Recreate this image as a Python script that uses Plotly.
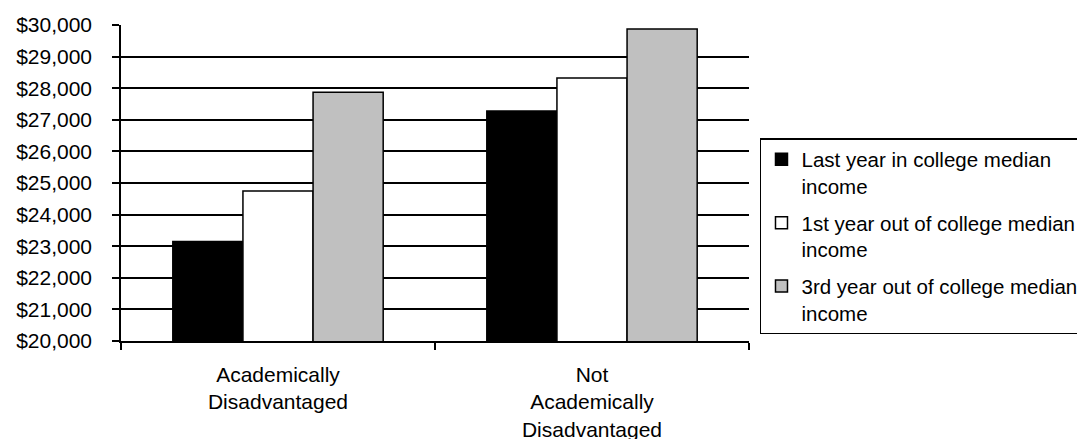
import plotly.graph_objects as go

categories = ["Academically<br>Disadvantaged", "Not<br>Academically<br>Disadvantaged"]
series_names = [
    "Last year in college median<br>income",
    "1st year out of college median<br>income",
    "3rd year out of college median<br>income",
]
last_year = [23150, 27280]
first_year_out = [24750, 28320]
third_year_out = [27870, 29870]
series_colors = ["#000000", "#FFFFFF", "#C0C0C0"]

fig = go.Figure()
for i, (name, vals, col) in enumerate(zip(series_names, [last_year, first_year_out, third_year_out], series_colors)):
    fig.add_trace(go.Bar(
        x=categories, y=vals, name=name, legendgroup="g%d" % i,
        marker=dict(color=col, line=dict(color="#000000", width=1.5)),
    ))

font = dict(family="Liberation Sans, Arial, sans-serif", size=21, color="#000000")
legend_font = dict(family="Liberation Sans, Arial, sans-serif", size=20.5, color="#000000")

fig.update_layout(
    width=1085, height=439,
    margin=dict(l=113, r=344, t=17, b=106, autoexpand=False),
    paper_bgcolor="white", plot_bgcolor="white",
    font=font,
    barmode="group", bargap=0.33, bargroupgap=0,
    showlegend=True,
    legend=dict(
        x=1.0175, y=0.6424, xanchor="left", yanchor="top",
        bgcolor="white", bordercolor="#000000", borderwidth=1.5,
        font=legend_font, valign="top", tracegroupgap=7,
    ),
    xaxis=dict(
        type="category", tickson="boundaries", ticks="outside", ticklen=7,
        tickwidth=1.5, tickcolor="#000000", showline=True, linecolor="#000000",
        linewidth=1.5, showgrid=False, automargin=False, ticklabelstandoff=14,
        zeroline=False,
    ),
    yaxis=dict(
        range=[20000, 30000], dtick=1000, tick0=20000, tickprefix="$",
        tickformat=",d", ticks="outside", ticklen=7, tickwidth=1.5,
        tickcolor="#000000", showline=True, linecolor="#000000", linewidth=1.5,
        showgrid=True, gridcolor="#000000", gridwidth=1.5, zeroline=False,
        automargin=False, ticklabelstandoff=16,
    ),
    separators=".,",
)

fig.write_html("out.html")
